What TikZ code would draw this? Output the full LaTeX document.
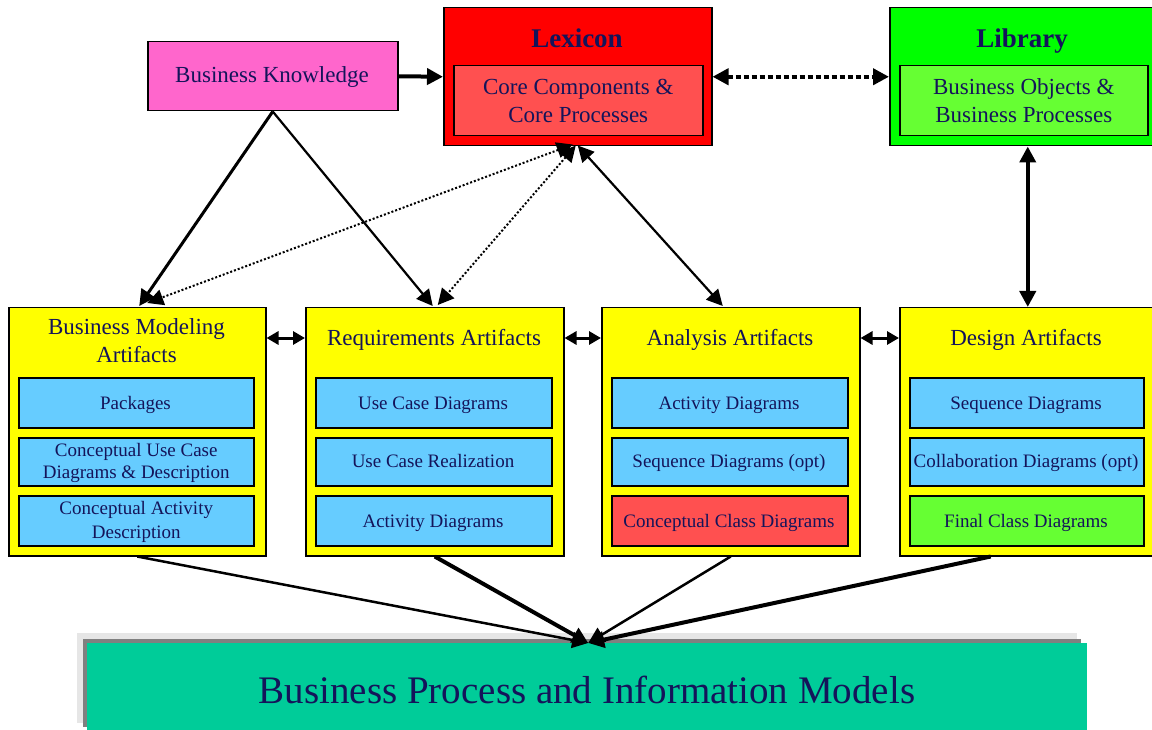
\documentclass[tikz,border=0pt]{standalone}
\usepackage{fontspec}
\setmainfont{Liberation Serif}
\usetikzlibrary{arrows.meta,calc}
\definecolor{txt}{RGB}{20,20,90}
\definecolor{pinkbk}{RGB}{255,102,204}
\definecolor{lexred}{RGB}{255,0,0}
\definecolor{lexin}{RGB}{255,80,80}
\definecolor{libgreen}{RGB}{0,255,0}
\definecolor{libin}{RGB}{102,255,51}
\definecolor{artyellow}{RGB}{255,255,0}
\definecolor{subblue}{RGB}{102,204,255}
\definecolor{teal2}{RGB}{0,204,153}
\definecolor{lgrey}{RGB}{230,230,230}
\definecolor{dgrey}{RGB}{128,128,128}
\begin{document}
\begin{tikzpicture}[x=1pt,y=-1pt,
  box/.style={draw=black,line width=1.5pt,inner sep=0pt,anchor=north west},
  plain/.style={inner sep=0pt,anchor=north west},
  ttl/.style={text=txt,font=\fontsize{23}{28}\selectfont,align=center,inner sep=0pt},
  bttl/.style={text=txt,font=\fontsize{27}{30}\selectfont\bfseries,inner sep=0pt,anchor=base},
  sub/.style={text=txt,font=\fontsize{19}{24}\selectfont,align=center,inner sep=0pt},
  subl/.style={text=txt,font=\fontsize{19}{24}\selectfont,inner sep=0pt,anchor=base},
  tip/.style={-{Triangle[length=16pt,width=16pt]}},
  dtip/.style={{Triangle[length=16pt,width=16pt]}-{Triangle[length=16pt,width=16pt]}},
  stip/.style={{Triangle[length=12pt,width=13pt]}-{Triangle[length=12pt,width=13pt]}},
  dots/.style={dash pattern=on 2pt off 2pt,line width=2pt},
  ]
\clip (0,0) rectangle (1152,730);
\fill[white] (0,0) rectangle (1152,730);
% top row
\node[box,fill=pinkbk,minimum width=250pt,minimum height=69pt] (bk) at (147,41) {};
\node[ttl,anchor=base] (bkt) at (272,83) {Business Knowledge};
\node[box,fill=lexred,minimum width=268pt,minimum height=138pt] (lexo) at (443,7) {};
\node[box,fill=lexin,minimum width=249pt,minimum height=70pt] (lexi) at (453,65) {};
\node[bttl] (lext) at (577,48) {Lexicon};
\node[ttl] (lexit) at (lexi.center) {Core Components \&\\Core Processes};
\node[box,fill=libgreen,minimum width=268pt,minimum height=138pt] (libo) at (889,7) {};
\node[box,fill=libin,minimum width=248pt,minimum height=70pt] (libi) at (899,65) {};
\node[bttl] (libt) at (1022,48) {Library};
\node[ttl] (libit) at (libi.center) {Business Objects \&\\Business Processes};
% artifact columns
\node[box,fill=artyellow,minimum width=257pt,minimum height=248pt] (bma) at (8,307) {};
\node[box,fill=artyellow,minimum width=258pt,minimum height=248pt] (req) at (305,307) {};
\node[box,fill=artyellow,minimum width=258pt,minimum height=248pt] (ana) at (601,307) {};
\node[box,fill=artyellow,minimum width=254pt,minimum height=248pt] (des) at (899,307) {};
\node[ttl] (bmat) at (136.5,341) {Business Modeling\\Artifacts};
\node[ttl,anchor=base] (reqt) at (434,345) {Requirements Artifacts};
\node[ttl,anchor=base] (anat) at (730,345) {Analysis Artifacts};
\node[ttl,anchor=base] (dest) at (1026,345) {Design Artifacts};
% sub boxes
\node[box,fill=subblue,minimum width=235pt,minimum height=50pt] (b1) at (18,377) {};
\node[box,fill=subblue,minimum width=235pt,minimum height=48pt] (b2) at (18,437) {};
\node[box,fill=subblue,minimum width=235pt,minimum height=50pt] (b3) at (18,495) {};
\node[subl] at (135.5,409) {Packages};
\node[sub,font=\fontsize{19}{22}\selectfont] at ($(b2.center)+(0,1)$) {Conceptual Use Case\\Diagrams \& Description};
\node[sub,font=\fontsize{19}{24}\selectfont] at ($(b3.center)+(0,1)$) {Conceptual Activity\\Description};
\node[box,fill=subblue,minimum width=236pt,minimum height=50pt] (r1) at (315,377) {};
\node[box,fill=subblue,minimum width=236pt,minimum height=48pt] (r2) at (315,437) {};
\node[box,fill=subblue,minimum width=236pt,minimum height=50pt] (r3) at (315,495) {};
\node[subl] at (433,409) {Use Case Diagrams};
\node[subl] at (433,467) {Use Case Realization};
\node[subl] at (433,527) {Activity Diagrams};
\node[box,fill=subblue,minimum width=236pt,minimum height=50pt] (a1) at (611,377) {};
\node[box,fill=subblue,minimum width=236pt,minimum height=48pt] (a2) at (611,437) {};
\node[box,fill=lexin,minimum width=236pt,minimum height=50pt] (a3) at (611,495) {};
\node[subl] at (729,409) {Activity Diagrams};
\node[subl] at (729,467) {Sequence Diagrams (opt)};
\node[subl] at (729,527) {Conceptual Class Diagrams};
\node[box,fill=subblue,minimum width=234pt,minimum height=50pt] (d1) at (909,377) {};
\node[box,fill=subblue,minimum width=234pt,minimum height=48pt] (d2) at (909,437) {};
\node[box,fill=libin,minimum width=234pt,minimum height=50pt] (d3) at (909,495) {};
\node[subl] at (1026,409) {Sequence Diagrams};
\node[subl] at (1026,467) {Collaboration Diagrams (opt)};
\node[subl] at (1026,527) {Final Class Diagrams};
% bottom box
\node[plain,fill=lgrey,minimum width=1000pt,minimum height=90pt] (bpl) at (77,633) {};
\node[plain,fill=dgrey,minimum width=998pt,minimum height=88pt] (bpd) at (83,639) {};
\node[plain,fill=teal2,minimum width=1000pt,minimum height=90pt] (bp) at (87,643) {};
\node[text=txt,font=\fontsize{39}{44}\selectfont,inner sep=0pt] (bpt) at (587,690) {Business Process and Information Models};
% connectors top
\draw[tip,line width=4pt] (bk.east) -- (lexo.west);
\draw[dtip,line width=4pt,dash pattern=on 5pt off 3pt] (lexo.east) -- (libo.west);
\draw[dtip,line width=4pt] ($(libo.south)+(4,0)$) -- ($(libo.south |- des.north)+(4,0)$);
\draw[tip,line width=3pt] (bk.south) -- ($(bma.north)+(2,-1)$);
\draw[tip,line width=2.2pt] (bk.south) -- ($(req.north)+(-2,-1)$);
\draw[dtip,line width=2.2pt] ($(lexo.south)+(0,-1)$) -- ($(ana.north)+(-8,-1)$);
\draw[dtip,dots] ($(lexo.south)+(-5,-2)$) -- ($(bma.north)+(10,-4)$);
\draw[dtip,dots] ($(lexo.south)+(-2,-1)$) -- ($(req.north)+(3,-2)$);
% double arrows between artifacts
\draw[stip,line width=3pt] ($(bma.north east)+(0,31)$) -- ($(req.north west)+(0,31)$);
\draw[stip,line width=3pt] ($(req.north east)+(0,31)$) -- ($(ana.north west)+(0,31)$);
\draw[stip,line width=3pt] ($(ana.north east)+(0,31)$) -- ($(des.north west)+(0,31)$);
% to bottom
\draw[tip,line width=2.5pt] (bma.south) -- ($(bp.north)+(1,0)$);
\draw[tip,line width=4pt] (req.south) -- ($(bp.north)+(1,0)$);
\draw[tip,line width=2.5pt] (ana.south) -- ($(bp.north)+(1,0)$);
\draw[tip,line width=4pt] ($(des.south)+(-36,0)$) -- ($(bp.north)+(1,0)$);
\end{tikzpicture}
\end{document}
